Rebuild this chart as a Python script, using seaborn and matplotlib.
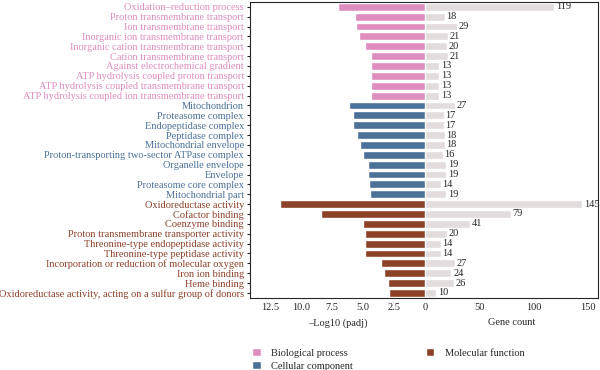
import pandas as pd
import numpy as np
import matplotlib.pyplot as plt
import seaborn as sns
from matplotlib.patches import Patch

# GO terms, top to bottom
terms = [
    "Oxidation\u2013reduction process",
    "Proton transmembrane transport",
    "Ion transmembrane transport",
    "Inorganic ion transmembrane transport",
    "Inorganic cation transmembrane transport",
    "Cation transmembrane transport",
    "Against electrochemical gradient",
    "ATP hydrolysis coupled proton transport",
    "ATP hydrolysis coupled transmembrane transport",
    "ATP hydrolysis coupled ion transmembrane transport",
    "Mitochondrion",
    "Proteasome complex",
    "Endopeptidase complex",
    "Peptidase complex",
    "Mitochondrial envelope",
    "Proton-transporting two-sector ATPase complex",
    "Organelle envelope",
    "Envelope",
    "Proteasome core complex",
    "Mitochondrial part",
    "Oxidoreductase activity",
    "Cofactor binding",
    "Coenzyme binding",
    "Proton transmembrane transporter activity",
    "Threonine-type endopeptidase activity",
    "Threonine-type peptidase activity",
    "Incorporation or reduction of molecular oxygen",
    "Iron ion binding",
    "Heme binding",
    "Oxidoreductase activity, acting on a sulfur group of donors",
]
categories = (["Biological process"] * 10 + ["Cellular component"] * 10
              + ["Molecular function"] * 10)
log_padj = [7.0, 5.7, 5.55, 5.35, 4.9, 4.4, 4.4, 4.4, 4.4, 4.4,
            6.13, 5.86, 5.86, 5.5, 5.27, 5.03, 4.65, 4.65, 4.57, 4.44,
            11.7, 8.4, 5.06, 4.9, 4.9, 4.9, 3.55, 3.36, 3.0, 2.9]
gene_count = [119, 18, 29, 21, 20, 21, 13, 13, 13, 13,
              27, 17, 17, 18, 18, 16, 19, 19, 14, 19,
              145, 79, 41, 20, 14, 14, 27, 24, 26, 10]

palette = {"Biological process": "#DE8DBE",
           "Cellular component": "#4C7199",
           "Molecular function": "#8C4129"}
grey = "#E2DCDD"

df = pd.DataFrame({"term": terms, "category": categories,
                   "log_padj": log_padj, "count": gene_count})

sns.set_style("ticks")
plt.rcParams["font.family"] = ["Liberation Serif", "DejaVu Serif"]
fs = 7.5

fig = plt.figure(figsize=(6, 3.7), dpi=100)
ax_l = fig.add_axes([0.417, 0.195, 0.292, 0.80])
ax_r = fig.add_axes([0.709, 0.195, 0.288, 0.80], sharey=ax_l)

sns.barplot(data=df, x="log_padj", y="term", hue="category", palette=palette,
            dodge=False, width=0.8, legend=False, ax=ax_l, saturation=1)
sns.barplot(data=df, x="count", y="term", color=grey, width=0.8,
            ax=ax_r, saturation=1)

# left panel: -log10(padj), reversed
ax_l.set_xlim(14.1, 0)
ax_l.set_xticks([12.5, 10, 7.5, 5, 2.5])
ax_l.set_xticklabels(["12.5", "10.0", "7.5", "5.0", "2.5"], fontsize=fs)
ax_l.set_xlabel("\u2013Log10 (padj)", fontsize=fs)
ax_l.set_ylabel("")
ax_l.spines["right"].set_visible(False)
ax_l.tick_params(axis="y", length=2.5, width=0.8, pad=2)
ax_l.tick_params(axis="x", length=0, pad=4)
ax_l.set_yticks(range(len(terms)))
ax_l.set_yticklabels(terms, fontsize=fs)
for lab, cat in zip(ax_l.get_yticklabels(), categories):
    lab.set_color(palette[cat])

# right panel: gene counts
ax_r.set_xlim(0, 159.5)
ax_r.set_xticks([0, 50, 100, 150])
ax_r.set_xticklabels(["0", "50", "100", "150"], fontsize=fs)
ax_r.set_xlabel("Gene count", fontsize=fs)
ax_r.set_ylabel("")
ax_r.spines["left"].set_visible(False)
ax_r.tick_params(axis="y", left=False, labelleft=False)
ax_r.tick_params(axis="x", length=0, pad=4)
ax_r.bar_label(ax_r.containers[0], fontsize=fs, padding=1.2)

ax_l.set_ylim(len(terms) - 0.5, -0.5)
for ax in (ax_l, ax_r):
    for s in ax.spines.values():
        s.set_linewidth(0.8)

handles = [Patch(facecolor=palette[c], label=c) for c in palette]
fig.legend(handles=handles, ncol=2, frameon=False, fontsize=fs,
           loc="upper left", bbox_to_anchor=(0.405, 0.085),
           handlelength=0.8, handleheight=0.8, handletextpad=1.0,
           columnspacing=7.0, labelspacing=0.35)

fig.savefig("out.png", dpi=100)
